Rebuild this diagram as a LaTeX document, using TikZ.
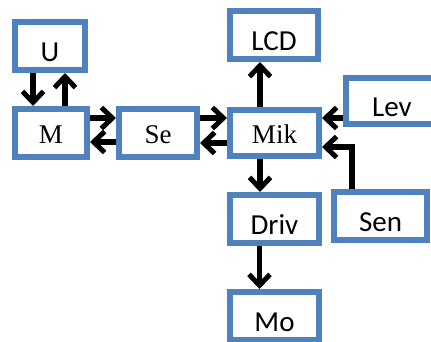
\documentclass[tikz,border=0pt]{standalone}
\usepackage{fontspec}
\setmainfont{Liberation Serif}
\newfontfamily\calib{Carlito}
\usetikzlibrary{arrows.meta}
\definecolor{boxblue}{RGB}{79,129,189}
\tikzset{
  box/.style={draw=boxblue, line width=6pt, fill=white, inner sep=0pt, anchor=center},
  sbox/.style={box, font=\calib\fontsize{29}{31}\selectfont, text height=30pt, text depth=0pt},
  rbox/.style={box, font=\fontsize{27}{29}\selectfont, text height=20pt, text depth=0pt},
  arr/.style={line width=5.5pt, -{Straight Barb[length=11pt,width=21pt,line width=5pt]}},
}
\begin{document}
\begin{tikzpicture}[x=1pt,y=-1pt]
\useasboundingbox (0,0) rectangle (431,341);
\node[sbox, minimum width=70pt, minimum height=48pt] (u) at (50,46) {U};
\node[rbox, minimum width=72pt, minimum height=48pt] (m) at (51,133) {M};
\node[rbox, minimum width=78pt, minimum height=48pt] (se) at (158,133) {Se};
\node[rbox, minimum width=89pt, minimum height=46pt] (mik) at (274.5,133) {Mik};
\node[sbox, minimum width=88pt, minimum height=48pt] (lcd) at (274,35) {LCD};
\node[sbox, minimum width=93pt, minimum height=46pt] (lev) at (392,101) {Lev};
\node[sbox, minimum width=89pt, minimum height=48pt] (driv) at (274.5,219) {Driv};
\node[sbox, minimum width=93pt, minimum height=48pt] (sen) at (380.5,216) {Sen};
\node[sbox, minimum width=89pt, minimum height=48pt] (mo) at (274.5,316) {Mo};
% U <-> M
\draw[arr] ([xshift=-17pt]u.south) -- ([xshift=-17pt]u.south |- m.north);
\draw[arr] ([xshift=15pt]u.south |- m.north) -- ([xshift=15pt]u.south);
% M <-> Se
\draw[arr] ([yshift=15pt]m.east) -- ([yshift=15pt]se.west);
\draw[arr] ([yshift=-9pt]se.west) -- ([yshift=-9pt]m.east);
% Se <-> Mik
\draw[arr] ([yshift=15pt]se.east) -- ([yshift=15pt]mik.west);
\draw[arr] ([yshift=-10pt]mik.west) -- ([yshift=-10pt]se.east);
% Mik -> LCD, Driv; Driv -> Mo
\draw[arr] ([xshift=-14.5pt]mik.north) -- ([xshift=-14.5pt]mik.north |- lcd.south);
\draw[arr] ([xshift=-14.5pt]mik.south) -- ([xshift=-14.5pt]mik.south |- driv.north);
\draw[arr] ([xshift=-15pt]driv.south) -- ([xshift=-15pt]driv.south |- mo.north);
% Lev -> Mik
\coordinate (mikR1) at ([yshift=15pt]mik.east);
\draw[arr] (lev.west |- mikR1) -- (mikR1);
% Sen -> Mik
\coordinate (mikR2) at ([yshift=-14pt]mik.east);
\draw[arr] ([xshift=-28.5pt]sen.north) -- ([xshift=-28.5pt]sen.north |- mikR2) -- (mikR2);
\end{tikzpicture}
\end{document}
